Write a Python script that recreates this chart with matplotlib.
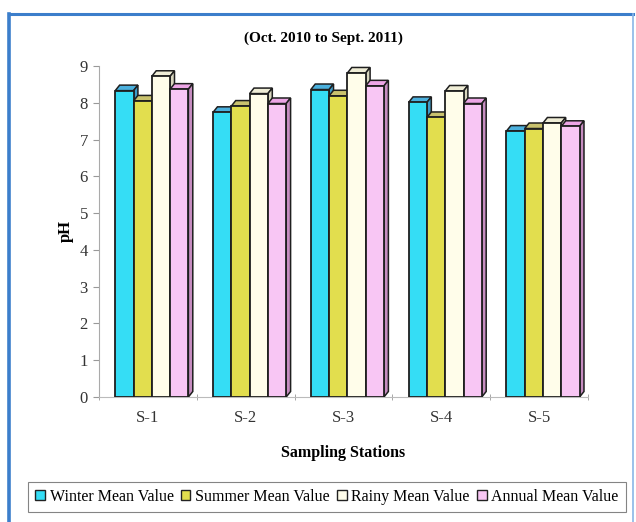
import matplotlib
matplotlib.use("Agg")
import matplotlib.pyplot as plt
import numpy as np
from matplotlib.patches import Polygon, Rectangle
from matplotlib.lines import Line2D

stations = ["S-1", "S-2", "S-3", "S-4", "S-5"]
seasons = ["Winter Mean Value", "Summer Mean Value", "Rainy Mean Value", "Annual Mean Value"]
winter = [8.33, 7.74, 8.36, 8.01, 7.23]
summer = [8.05, 7.91, 8.19, 7.60, 7.30]
rainy = [8.72, 8.25, 8.81, 8.32, 7.45]
annual = [8.37, 7.98, 8.46, 7.98, 7.36]

front_colors = ["#35DDF5", "#E2DE4E", "#FFFDEA", "#F8C6F4"]
top_colors = ["#4BB0DD", "#C9C26E", "#EFEDD6", "#EDA6E6"]
side_colors = ["#3E9CC8", "#B8B058", "#D8D6BE", "#C68CC0"]

plt.rcParams["font.family"] = ["Liberation Serif", "DejaVu Serif"]

fig = plt.figure(figsize=(6.36, 5.22), dpi=100)
ax = fig.add_axes([99 / 636, 1 - 397 / 522, 489 / 636, 331 / 522])

x = np.arange(len(stations))
w = 0.187
dx, dy = 0.045, 0.15
series = [winter, summer, rainy, annual]

for i, (vals, label) in enumerate(zip(series, seasons)):
    xs = x + (i - 1.5) * w + 0.04
    ax.bar(xs, vals, width=w, color=front_colors[i], edgecolor="#1f1f1f",
           linewidth=1.3, label=label, zorder=3 + i * 2)
    for xc, v in zip(xs, vals):
        x0, x1 = xc - w / 2, xc + w / 2
        top = Polygon([(x0, v), (x1, v), (x1 + dx, v + dy), (x0 + dx, v + dy)],
                      closed=True, facecolor=top_colors[i], edgecolor="#1f1f1f",
                      linewidth=1.1, zorder=2 + i * 2)
        side = Polygon([(x1, 0), (x1 + dx, dy), (x1 + dx, v + dy), (x1, v)],
                       closed=True, facecolor=side_colors[i], edgecolor="#1f1f1f",
                       linewidth=1.1, zorder=2 + i * 2)
        ax.add_patch(top)
        ax.add_patch(side)

ax.set_xlim(-0.5, 4.5)
ax.set_ylim(0, 9)
ax.set_yticks(range(0, 10))
ax.set_xticks(x)
ax.set_xticklabels(stations)
ax.set_xticks(np.arange(-0.5, 5, 1), minor=True)
ax.tick_params(axis="x", which="major", length=0, pad=9, labelsize=12, labelcolor="#333333")
ax.tick_params(axis="x", which="minor", length=4, direction="inout", color="#999999")
ax.tick_params(axis="y", length=4, color="#999999", labelsize=12, labelcolor="#333333", pad=4)

for s in ["top", "right"]:
    ax.spines[s].set_visible(False)
ax.spines["left"].set_color("#aaaaaa")
ax.spines["bottom"].set_color("#bbbbbb")

ax.set_ylabel("pH", fontsize=12, fontweight="bold", labelpad=4)
ax.set_xlabel("Sampling Stations", fontsize=11.5, fontweight="bold", labelpad=14)
fig.text(323 / 636, 1 - 38 / 522, "(Oct. 2010 to Sept. 2011)", ha="center", va="center",
         fontsize=11, fontweight="bold")

handles = [Rectangle((0, 0), 1, 1, facecolor=c, edgecolor="#222222", linewidth=1.0) for c in front_colors]
leg = fig.legend(handles, seasons, loc="center", bbox_to_anchor=(327 / 636, 1 - 497 / 522),
                 ncol=4, fontsize=11.5, frameon=True, fancybox=False, handlelength=0.6,
                 handleheight=0.6, handletextpad=0.3, columnspacing=0.45, borderpad=0.45)
leg.get_frame().set_edgecolor("#666666")
leg.get_frame().set_linewidth(0.8)

# outer blue frame
fig.add_artist(Line2D([9 / 636, 9 / 636], [0, 1 - 14 / 522], transform=fig.transFigure,
                      color="#3C7ECB", linewidth=2.6))
fig.add_artist(Line2D([9 / 636, 633 / 636], [1 - 14 / 522, 1 - 14 / 522], transform=fig.transFigure,
                      color="#3C7ECB", linewidth=2.2))
fig.add_artist(Line2D([633 / 636, 633 / 636], [0, 1 - 14 / 522], transform=fig.transFigure,
                      color="#8AB6E6", linewidth=1.2))

fig.savefig("out.png", dpi=100)
